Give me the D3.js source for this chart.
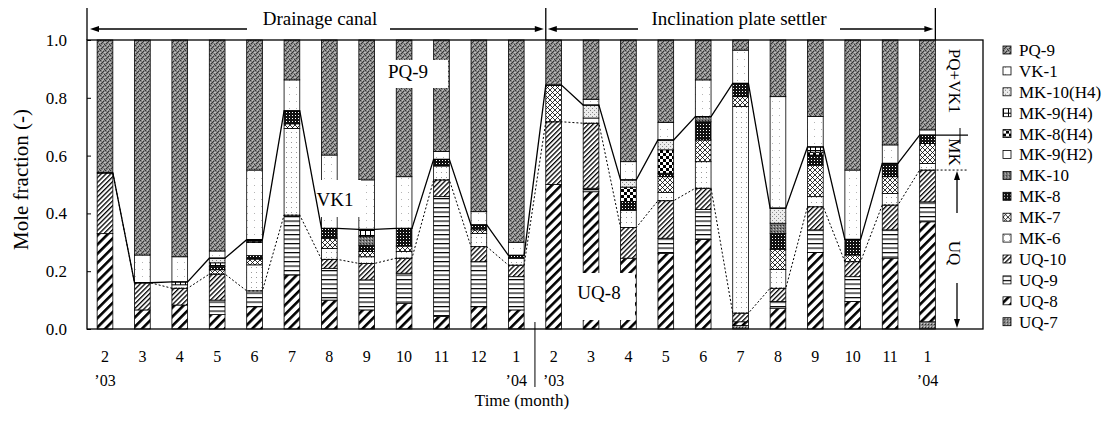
<!DOCTYPE html>
<html>
<head>
<meta charset="utf-8">
<script src="https://cdn.jsdelivr.net/npm/d3@7"></script>
<style>
  body { margin: 0; background: #fff; }
  svg text { font-family: "Liberation Serif", "Times New Roman", serif; fill: #000; }
</style>
</head>
<body>
<svg id="chart" width="1110" height="421"></svg>
<script>
// month labels, 12 drainage canal samples then 11 inclination plate settler samples
const months = ['2','3','4','5','6','7','8','9','10','11','12','1','2','3','4','5','6','7','8','9','10','11','1'];
const yearLabels = [[0, '\u201903'], [11, '\u201904'], [12, '\u201903'], [22, '\u201904']];

// stacking order bottom -> top
const keys = ['UQ-7','UQ-8','UQ-9','UQ-10','MK-6','MK-7','MK-8','MK-10','MK-9(H2)','MK-8(H4)','MK-9(H4)','MK-10(H4)','VK-1','PQ-9'];

const uq7    = [0,0,0,0,0,0,0,0,0,0,0,0, 0,0,0,0,0,.012,0,0,0,0,.025];
const uq8    = [.33,.066,.083,.05,.077,.187,.10,.066,.089,.043,.077,.066, .50,.475,.245,.262,.31,.013,.072,.265,.095,.245,.346];
const uq9    = [0,0,0,.05,.055,.207,.11,.104,.104,.415,.156,.115, 0,.012,0,.052,.104,0,.023,.078,.086,.098,.069];
const uq10   = [.21,.094,.058,.09,0,0,.031,.057,.052,.058,.052,.04, .217,.225,.106,.13,.073,.03,.046,.08,.052,.086,.11];
const mk6    = [0,0,.012,0,.09,.30,.038,.023,.023,.048,.046,.024, 0,.018,.06,.028,.092,.715,.065,.035,0,.04,.023];
const mk7    = [0,0,0,.015,.02,.016,.035,.018,.019,0,.012,0, .127,0,0,.055,.075,.034,.07,.109,.023,.058,.069];
const mk8    = [0,0,0,.012,.012,.045,.034,.022,.061,.023,.017,.01, 0,0,.03,.012,.063,.046,.055,.035,.054,.046,.029];
const mk10   = [0,0,0,0,0,0,0,.03,0,0,0,0, 0,0,0,0,.018,0,.035,0,0,0,0];
const mk9h2  = [0,0,0,0,.045,0,0,0,0,0,0,0, 0,0,0,0,0,0,0,0,0,0,0];
const mk8h4  = [0,0,0,0,.005,0,0,0,0,0,0,0, 0,0,.05,.081,0,0,0,.01,0,0,0];
const mk9h4  = [0,0,.01,.012,.005,0,0,.025,0,0,0,0, 0,0,0,0,0,0,0,.018,0,0,0];
const mk10h4 = [0,0,0,.016,0,0,0,0,0,0,0,0, 0,.045,.025,.034,0,0,.052,0,0,0,0];
const vk1    = [0,.096,.087,.025,.241,.107,.254,.171,.179,.027,.046,.045, 0,.02,.063,.061,.127,.115,.386,.105,.24,.064,.018];
const pq9    = [.46,.744,.75,.73,.45,.138,.398,.484,.473,.386,.594,.70, .156,.205,.421,.285,.138,.035,.196,.265,.45,.363,.311];

const seriesValues = {
  'UQ-7': uq7, 'UQ-8': uq8, 'UQ-9': uq9, 'UQ-10': uq10,
  'MK-6': mk6, 'MK-7': mk7, 'MK-8': mk8, 'MK-10': mk10, 'MK-9(H2)': mk9h2,
  'MK-8(H4)': mk8h4, 'MK-9(H4)': mk9h4, 'MK-10(H4)': mk10h4,
  'VK-1': vk1, 'PQ-9': pq9
};

const table = months.map((m, i) => {
  const row = { idx: i };
  keys.forEach(k => row[k] = seriesValues[k][i]);
  return row;
});

const svg = d3.select('#chart');
const defs = svg.append('defs');

// ---- fill patterns (scanned print look) ----
function pattern(id, w, h, draw, transform) {
  const p = defs.append('pattern').attr('id', id)
    .attr('patternUnits', 'userSpaceOnUse').attr('width', w).attr('height', h);
  if (transform) p.attr('patternTransform', transform);
  draw(p);
}
function px(p, pts, col) {
  pts.forEach(([a, b]) => p.append('rect').attr('x', a).attr('y', b).attr('width', 1).attr('height', 1).attr('fill', col));
}
pattern('p-pq9', 5, 5, p => {
  p.append('rect').attr('width', 5).attr('height', 5).attr('fill', '#868686');
  px(p, [[0,0],[3,1],[1,3],[4,4],[2,2]], '#353535');
  px(p, [[2,0],[0,2],[4,2],[3,4]], '#bdbdbd');
});
pattern('p-vk1', 7, 7, p => {
  p.append('rect').attr('width', 7).attr('height', 7).attr('fill', '#fff');
  px(p, [[2,3]], '#b5b5b5');
});
pattern('p-mk6', 5, 5, p => {
  p.append('rect').attr('width', 5).attr('height', 5).attr('fill', '#fff');
  px(p, [[1,2]], '#9a9a9a');
});
pattern('p-mk9h2', 4, 4, p => p.append('rect').attr('width', 4).attr('height', 4).attr('fill', '#fff'));
pattern('p-mk10h4', 4, 4, p => {
  p.append('rect').attr('width', 4).attr('height', 4).attr('fill', '#ececec');
  px(p, [[0,0],[2,2]], '#8a8a8a');
});
pattern('p-mk9h4', 5, 5, p => {
  p.append('rect').attr('width', 5).attr('height', 5).attr('fill', '#fff');
  p.append('rect').attr('width', 5).attr('height', 1).attr('fill', '#000');
  p.append('rect').attr('width', 1).attr('height', 5).attr('fill', '#000');
});
pattern('p-mk8h4', 6, 6, p => {
  p.append('rect').attr('width', 6).attr('height', 6).attr('fill', '#fff');
  p.append('rect').attr('width', 3).attr('height', 3).attr('fill', '#000');
  p.append('rect').attr('x', 3).attr('y', 3).attr('width', 3).attr('height', 3).attr('fill', '#000');
});
pattern('p-mk10', 3, 3, p => {
  p.append('rect').attr('width', 3).attr('height', 3).attr('fill', '#7a7a7a');
  px(p, [[0,0]], '#2a2a2a');
  px(p, [[2,1]], '#c8c8c8');
});
pattern('p-mk8', 3, 3, p => {
  p.append('rect').attr('width', 3).attr('height', 3).attr('fill', '#111');
  px(p, [[1,1]], '#fff');
});
pattern('p-mk7', 5, 5, p => {
  p.append('rect').attr('width', 5).attr('height', 5).attr('fill', '#fff');
  p.append('path').attr('d', 'M0,0L5,5M5,0L0,5').attr('stroke', '#000').attr('stroke-width', 0.8);
});
pattern('p-uq10', 3.4, 3.4, p => {
  p.append('rect').attr('width', 3.4).attr('height', 3.4).attr('fill', '#fff');
  p.append('rect').attr('width', 1.3).attr('height', 3.4).attr('fill', '#000');
}, 'rotate(45)');
pattern('p-uq9', 4, 4.5, p => {
  p.append('rect').attr('width', 4).attr('height', 4.5).attr('fill', '#fff');
  p.append('rect').attr('width', 4).attr('height', 1.2).attr('fill', '#000');
});
pattern('p-uq8', 6.5, 6.5, p => {
  p.append('rect').attr('width', 6.5).attr('height', 6.5).attr('fill', '#fff');
  p.append('rect').attr('width', 2.6).attr('height', 6.5).attr('fill', '#000');
}, 'rotate(45)');
pattern('p-uq7', 3, 3, p => {
  p.append('rect').attr('width', 3).attr('height', 3).attr('fill', '#888');
  px(p, [[1,0]], '#2e2e2e');
  px(p, [[0,2]], '#d0d0d0');
});

const fillOf = {
  'UQ-7': 'url(#p-uq7)', 'UQ-8': 'url(#p-uq8)', 'UQ-9': 'url(#p-uq9)', 'UQ-10': 'url(#p-uq10)',
  'MK-6': 'url(#p-mk6)', 'MK-7': 'url(#p-mk7)', 'MK-8': 'url(#p-mk8)', 'MK-10': 'url(#p-mk10)',
  'MK-9(H2)': 'url(#p-mk9h2)', 'MK-8(H4)': 'url(#p-mk8h4)', 'MK-9(H4)': 'url(#p-mk9h4)',
  'MK-10(H4)': 'url(#p-mk10h4)', 'VK-1': 'url(#p-vk1)', 'PQ-9': 'url(#p-pq9)'
};

// ---- scales ----
const plotLeft = 87, plotRight = 983, plotTop = 40, plotBottom = 329;
const x = d3.scaleBand().domain(d3.range(months.length)).range([86.3, 946.2])
  .paddingInner(0.58).paddingOuter(0.29);
const y = d3.scaleLinear().domain([0, 1]).range([plotBottom, plotTop]);
const bw = x.bandwidth();

// ---- bars ----
const stacked = d3.stack().keys(keys)(table);
const layers = svg.append('g').selectAll('g').data(stacked).enter().append('g')
  .attr('fill', d => fillOf[d.key]);
layers.selectAll('rect').data(d => d.filter(s => s[1] - s[0] > 0)).enter().append('rect')
  .attr('x', d => x(d.data.idx))
  .attr('y', d => y(d[1]))
  .attr('width', bw)
  .attr('height', d => y(d[0]) - y(d[1]))
  .attr('stroke', '#000').attr('stroke-width', 0.8);

// ---- boundary lines (UQ top dotted, MK top solid) ----
const uqTop = stacked[keys.indexOf('UQ-10')].map(s => s[1]);
const mkTop = stacked[keys.indexOf('MK-10(H4)')].map(s => s[1]);
function edgePoints(vals) {
  const pts = [];
  vals.forEach((v, i) => { pts.push([x(i), y(v)]); pts.push([x(i) + bw, y(v)]); });
  return pts;
}
const last = months.length - 1;
const uqPts = edgePoints(uqTop); uqPts.push([968, y(uqTop[last])]);
const mkPts = edgePoints(mkTop); mkPts.push([968, y(mkTop[last])]);
const line = d3.line();
svg.append('path').attr('d', line(uqPts)).attr('fill', 'none')
  .attr('stroke', '#000').attr('stroke-width', 1).attr('stroke-dasharray', '2,2');
svg.append('path').attr('d', line(mkPts)).attr('fill', 'none')
  .attr('stroke', '#000').attr('stroke-width', 1.3);

// ---- in-plot labels with white boxes ----
function boxLabel(x0, y0, x1, y1, cx, cy, txt) {
  svg.append('rect').attr('x', x0).attr('y', y0).attr('width', x1 - x0).attr('height', y1 - y0).attr('fill', '#fff');
  svg.append('text').attr('x', cx).attr('y', cy).attr('dy', '0.35em')
    .attr('text-anchor', 'middle').style('font-size', '19px').text(txt);
}
boxLabel(378, 60, 448, 88, 408, 71, 'PQ-9');
boxLabel(321, 180, 361, 217, 335, 199, 'VK1');
boxLabel(568, 273, 635, 320, 599, 292, 'UQ-8');

// ---- frame ----
const frame = svg.append('g').attr('stroke', '#000').attr('stroke-width', 1.3).attr('fill', 'none');
frame.append('rect').attr('x', plotLeft).attr('y', plotTop)
  .attr('width', plotRight - plotLeft).attr('height', plotBottom - plotTop);
frame.append('line').attr('x1', plotLeft).attr('x2', plotLeft).attr('y1', 8).attr('y2', plotTop);
const divTop = x(12);
const rightTop = x(last) + bw;
frame.append('line').attr('x1', divTop).attr('x2', divTop).attr('y1', 8).attr('y2', plotTop);
frame.append('line').attr('x1', rightTop).attr('x2', rightTop).attr('y1', 8).attr('y2', plotTop);
const divBottom = (x(11) + bw + x(12)) / 2;
frame.append('line').attr('x1', divBottom).attr('x2', divBottom).attr('y1', 322).attr('y2', 387).attr('stroke-width', 1);

// ---- axes ----
const yAxis = d3.axisLeft(y).tickValues([0, .2, .4, .6, .8, 1]).tickFormat(d3.format('.1f'))
  .tickSize(-4).tickPadding(20);
const gy = svg.append('g').attr('transform', `translate(${plotLeft},0)`).call(yAxis);
gy.select('.domain').remove();
gy.selectAll('text').style('font-size', '17px').attr('font-family', null);

const xAxis = d3.axisBottom(x).tickFormat(i => months[i]).tickSize(0).tickPadding(33);
const gx = svg.append('g').attr('transform', `translate(0,${plotBottom})`).call(xAxis);
gx.select('.domain').remove();
gx.selectAll('text').style('font-size', '16px').attr('font-family', null).attr('dy', '0');

svg.append('g').selectAll('text').data(yearLabels).enter().append('text')
  .attr('x', d => x(d[0]) + bw / 2).attr('y', 386).attr('text-anchor', 'middle')
  .style('font-size', '16px').text(d => d[1]);

svg.append('text').attr('transform', 'translate(28,250) rotate(-90)')
  .style('font-size', '21px').text('Mole fraction (-)');
svg.append('text').attr('x', 522).attr('y', 406).attr('text-anchor', 'middle')
  .style('font-size', '17px').text('Time (month)');

// ---- header arrows ----
function arrow(x1, x2, yy) {
  const dir = Math.sign(x2 - x1);
  svg.append('line').attr('x1', x1).attr('x2', x2 - dir * 6).attr('y1', yy).attr('y2', yy)
    .attr('stroke', '#000').attr('stroke-width', 1.3);
  svg.append('path').attr('d', `M${x2},${yy}L${x2 - dir * 9},${yy - 3}L${x2 - dir * 9},${yy + 3}Z`).attr('fill', '#000');
}
function varrow(xx, y1, y2) {
  const dir = Math.sign(y2 - y1);
  svg.append('line').attr('x1', xx).attr('x2', xx).attr('y1', y1).attr('y2', y2 - dir * 6)
    .attr('stroke', '#000').attr('stroke-width', 1.3);
  svg.append('path').attr('d', `M${xx},${y2}L${xx - 3},${y2 - dir * 9}L${xx + 3},${y2 - dir * 9}Z`).attr('fill', '#000');
}
arrow(247, plotLeft + 3, 29);
arrow(390, divTop - 2, 29);
arrow(638, divTop + 2, 29);
arrow(840, rightTop - 2, 29);
svg.append('text').attr('x', 320).attr('y', 25).attr('text-anchor', 'middle')
  .style('font-size', '19px').text('Drainage canal');
svg.append('text').attr('x', 739).attr('y', 25).attr('text-anchor', 'middle')
  .style('font-size', '19px').text('Inclination plate settler');

// ---- right bracket labels ----
function vtext(cx, cy, txt) {
  svg.append('text').attr('transform', `translate(${cx},${cy}) rotate(90)`)
    .attr('text-anchor', 'middle').attr('dy', '0.35em').style('font-size', '17px').text(txt);
}
vtext(955, 81, 'PQ+VK1');
vtext(955, 152, 'MK');
vtext(955, 253, 'UQ');
svg.append('line').attr('x1', 960).attr('x2', 960).attr('y1', 128).attr('y2', 144)
  .attr('stroke', '#000').attr('stroke-width', 1);
varrow(957, 213, y(uqTop[last]) + 1);
varrow(957, 283, plotBottom - 1);

// ---- legend ----
const legendKeys = keys.slice().reverse();
const lg = svg.append('g').selectAll('g').data(legendKeys).enter().append('g')
  .attr('transform', (d, i) => `translate(1003,${50 + i * 20.9})`);
lg.append('rect').attr('x', 0).attr('y', -4).attr('width', 8).attr('height', 8)
  .attr('fill', d => fillOf[d]).attr('stroke', '#000').attr('stroke-width', 0.8);
lg.append('text').attr('x', 16).attr('dy', '0.35em').style('font-size', '17px').text(d => d);
</script>
</body>
</html>
